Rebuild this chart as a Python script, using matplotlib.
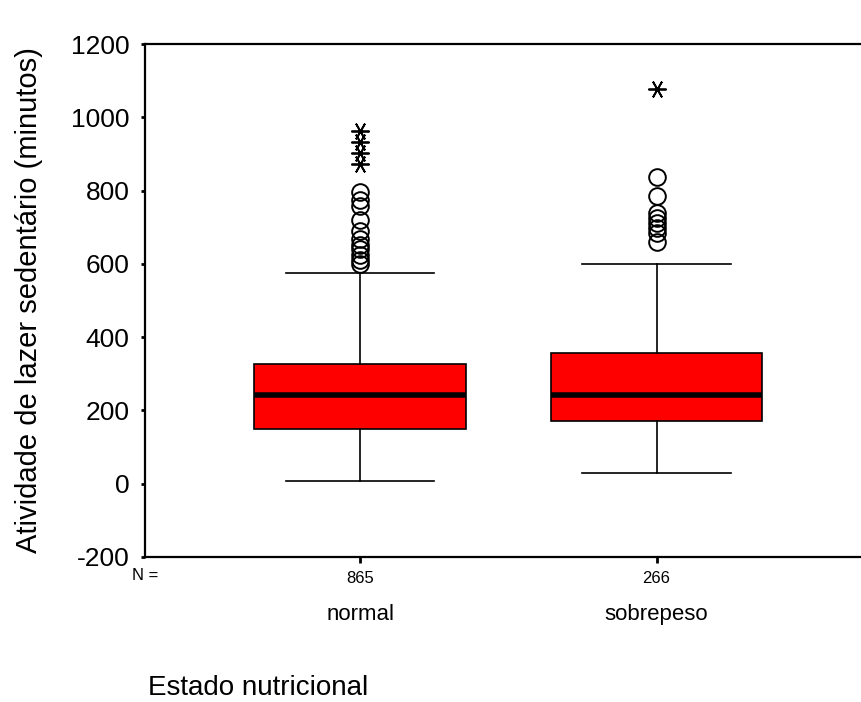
import matplotlib
matplotlib.use("Agg")
import matplotlib.pyplot as plt
from matplotlib.ticker import FuncFormatter

plt.rcParams['font.family'] = ['Liberation Sans', 'DejaVu Sans']

# data
groups = ["normal", "sobrepeso"]
counts = [865, 266]
q1 = [150, 172]
medians = [243, 243]
q3 = [326, 358]
whisk_lo = [8, 30]
whisk_hi = [574, 600]
circles_normal = [795, 775, 758, 720, 690, 668, 652, 640, 625, 610, 600]
circles_sobre = [838, 784, 738, 724, 712, 698, 684, 660]
stars_normal = [963, 933, 903, 873]
stars_sobre = [1077]

fig = plt.figure(figsize=(8.61, 7.02), dpi=100)
ax = fig.add_axes([0.1684, 0.2066, 0.8316, 0.7307])

pos = [1, 2]
stats = []
for i in range(2):
    stats.append(dict(med=medians[i], q1=q1[i], q3=q3[i],
                      whislo=whisk_lo[i], whishi=whisk_hi[i], fliers=[]))

ax.bxp(stats, positions=pos, widths=0.713, patch_artist=True,
       showfliers=False, showcaps=False,
       boxprops=dict(facecolor='#ff0000', edgecolor='black', linewidth=1.2),
       medianprops=dict(color='black', linewidth=4),
       whiskerprops=dict(color='black', linewidth=1.2))

# whisker caps
for i in range(2):
    for v in (whisk_lo[i], whisk_hi[i]):
        ax.plot([pos[i] - 0.25, pos[i] + 0.25], [v, v], color='black', lw=1.2)

for p, vals in zip(pos, [circles_normal, circles_sobre]):
    ax.plot([p] * len(vals), vals, 'o', mfc='none', mec='black',
            ms=12, mew=1.4, ls='none')
for p, vals in zip(pos, [stars_normal, stars_sobre]):
    ax.plot([p] * len(vals), vals, marker=(6, 2, 90), color='black',
            ms=13, mew=1.3, ls='none')

ax.set_xlim(0.274, 2.69)
ax.set_ylim(-200, 1200)
ax.set_yticks([-200, 0, 200, 400, 600, 800, 1000, 1200])
ax.yaxis.set_major_formatter(FuncFormatter(lambda v, p: "%d" % v))
ax.tick_params(axis='y', labelsize=19, length=3, width=2, pad=8)
ax.set_xticks(pos)
ax.set_xticklabels([str(c) for c in counts], fontsize=12)
ax.tick_params(axis='x', length=4, width=2, pad=6)
ax.spines['right'].set_visible(False)
for s in ['left', 'top', 'bottom']:
    ax.spines[s].set_linewidth(1.6)

ax.text(0.274, -250, "N =", fontsize=12, ha='center', va='center')
for p, g in zip(pos, groups):
    ax.text(p, -358, g, fontsize=16, ha='center', va='center')
fig.text(148 / 861, 1 - 688 / 702, "Estado nutricional", fontsize=20,
         ha='left', va='center')
ax.set_ylabel("Atividade de lazer sedentário (minutos)", fontsize=21, labelpad=20)

fig.savefig("out.png", dpi=100)
